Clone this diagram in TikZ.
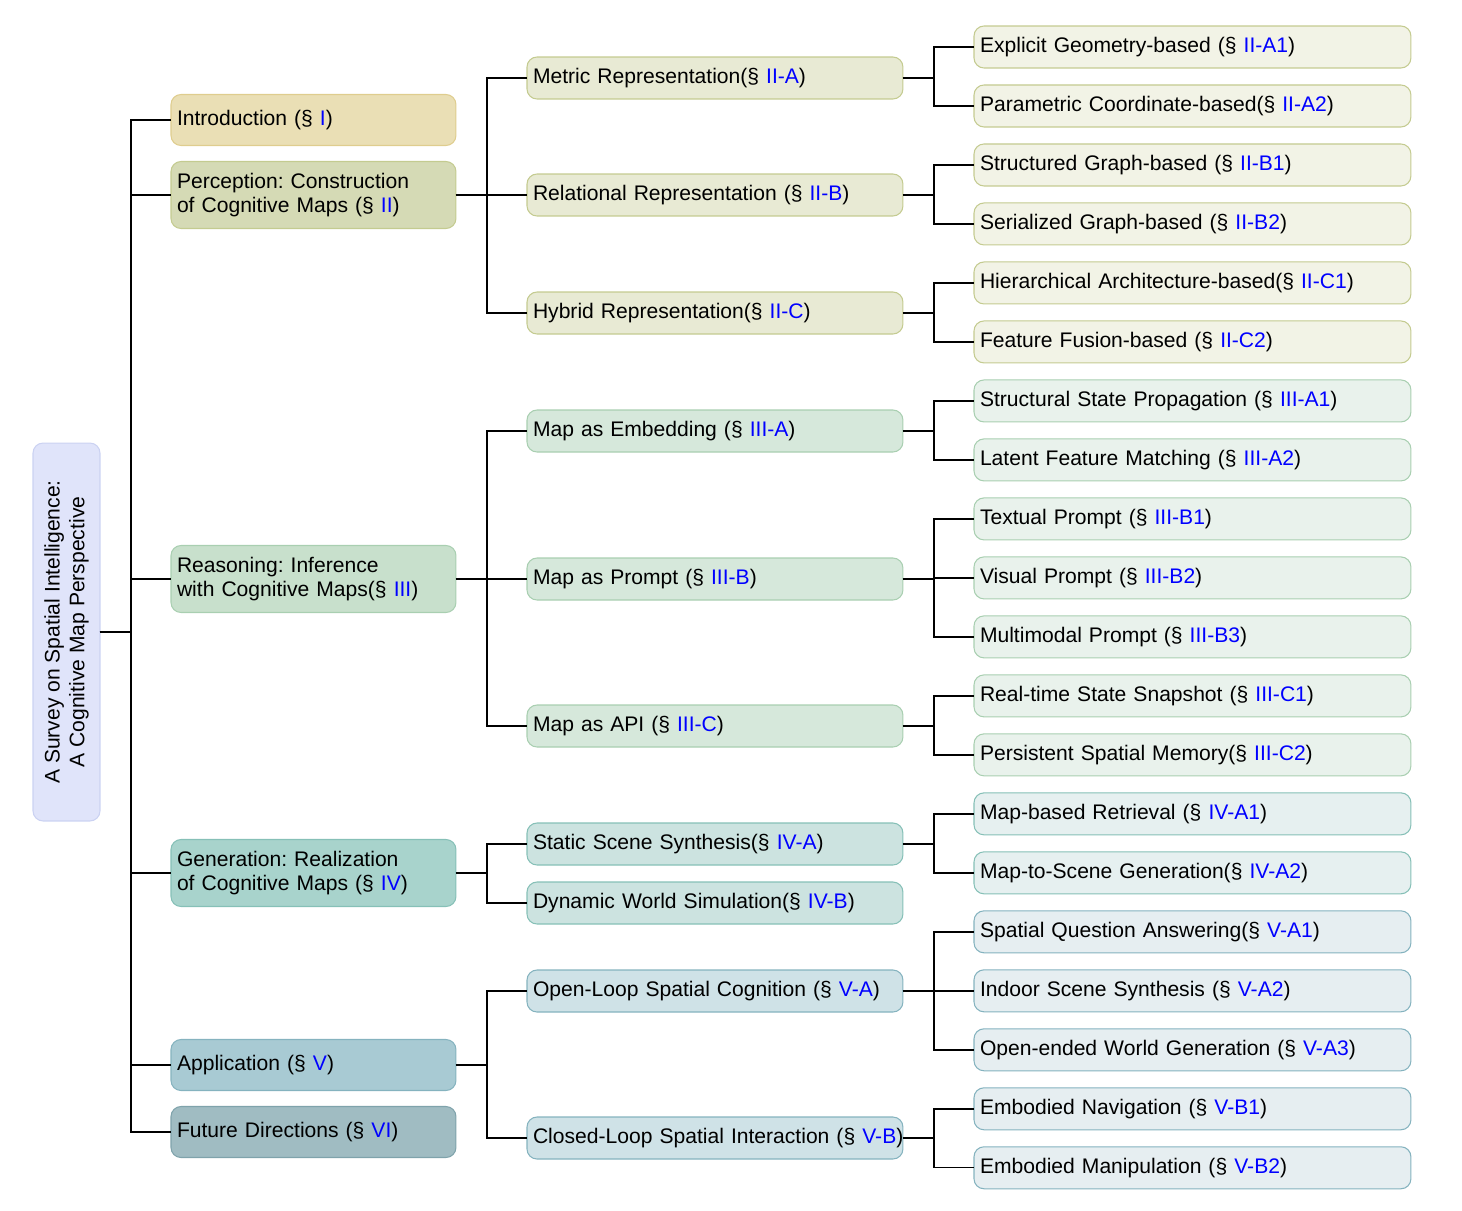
\documentclass[tikz,border=0pt]{standalone}
\usepackage{fontspec}
\setmainfont{Liberation Sans}
\usetikzlibrary{positioning}
\def\sref#1{(\S\ \textcolor{blue}{#1})}
\frenchspacing

\definecolor{rootfill}{HTML}{E0E4FA}\definecolor{rootline}{HTML}{CBD2F2}
\definecolor{introfill}{HTML}{EADFB5}\definecolor{introline}{HTML}{DFCD8E}
\definecolor{percfill}{HTML}{D5DAB5}\definecolor{percline}{HTML}{C4CB90}
\definecolor{percfillb}{HTML}{E8EAD4}\definecolor{percfillc}{HTML}{F2F3E6}
\definecolor{reasfill}{HTML}{C8E0CC}\definecolor{reasline}{HTML}{A9CFB1}
\definecolor{reasfillb}{HTML}{D6E8DB}\definecolor{reasfillc}{HTML}{E9F2EC}
\definecolor{genfill}{HTML}{A8D3CC}\definecolor{genline}{HTML}{86C0B7}
\definecolor{genfillb}{HTML}{CCE3E0}\definecolor{genfillc}{HTML}{E6F0F0}
\definecolor{appfill}{HTML}{A8CAD3}\definecolor{appline}{HTML}{85B3BF}
\definecolor{appfillb}{HTML}{CFE2E7}\definecolor{appfillc}{HTML}{E6EEF1}
\definecolor{futfill}{HTML}{A0BCC2}\definecolor{futline}{HTML}{7FA3AB}

\tikzset{
	box/.style={draw,rounded corners=0.2cm,outer sep=0pt,line width=0.6pt,anchor=west,align=left,inner xsep=0.12cm,inner ysep=0pt,font=\fontsize{12}{14}\selectfont},
	lone/.style={box,text width=5.46cm,minimum height=1.02cm},
	ltwo/.style={box,text width=7.28cm,minimum height=0.84cm},
	lthree/.style={box,text width=8.5cm,minimum height=0.84cm},
	link/.style={draw=black,line width=0.8pt},
}

\begin{document}
\begin{tikzpicture}[x=0.02cm,y=-0.02cm]
	\useasboundingbox (0,0) rectangle (1462,1210);

	% root
	\node [box,anchor=center,rotate=90,align=center,minimum width=7.56cm,minimum height=1.34cm,fill=rootfill,draw=rootline] at (66.5,632) (root) {A Survey on Spatial Intelligence:\\A Cognitive Map Perspective};

	% first level
	\node [lone,fill=introfill,draw=introline] at (171,120) (intro) {Introduction \sref{I}};
	\node [lone,minimum height=1.34cm,fill=percfill,draw=percline] at (171,195) (perc) {Perception: Construction\\of Cognitive Maps \sref{II}};
	\node [lone,minimum height=1.34cm,fill=reasfill,draw=reasline] at (171,579) (reas) {Reasoning: Inference\\with Cognitive Maps\sref{III}};
	\node [lone,minimum height=1.34cm,fill=genfill,draw=genline] at (171,873) (gen) {Generation: Realization\\of Cognitive Maps \sref{IV}};
	\node [lone,fill=appfill,draw=appline] at (171,1065) (app) {Application \sref{V}};
	\node [lone,fill=futfill,draw=futline] at (171,1132) (fut) {Future Directions \sref{VI}};

	% second level
	\node [ltwo,fill=percfillb,draw=percline] at (527,78) (metric) {Metric Representation\sref{II-A}};
	\node [ltwo,fill=percfillb,draw=percline] at (527,195) (relational) {Relational Representation \sref{II-B}};
	\node [ltwo,fill=percfillb,draw=percline] at (527,313) (hybrid) {Hybrid Representation\sref{II-C}};
	\node [ltwo,fill=reasfillb,draw=reasline] at (527,431) (embed) {Map as Embedding \sref{III-A}};
	\node [ltwo,fill=reasfillb,draw=reasline] at (527,579) (prompt) {Map as Prompt \sref{III-B}};
	\node [ltwo,fill=reasfillb,draw=reasline] at (527,726) (api) {Map as API \sref{III-C}};
	\node [ltwo,fill=genfillb,draw=genline] at (527,844) (static) {Static Scene Synthesis\sref{IV-A}};
	\node [ltwo,fill=genfillb,draw=genline] at (527,903) (dynamic) {Dynamic World Simulation\sref{IV-B}};
	\node [ltwo,fill=appfillb,draw=appline] at (527,991) (openloop) {Open-Loop Spatial Cognition \sref{V-A}};
	\node [ltwo,fill=appfillb,draw=appline] at (527,1138) (closedloop) {\mbox{Closed-Loop Spatial Interaction \sref{V-B}}};

	% third level
	\node [lthree,fill=percfillc,draw=percline] at (974,47) (explicit) {Explicit Geometry-based \sref{II-A1}};
	\node [lthree,fill=percfillc,draw=percline,below=0.34cm of explicit] (parametric) {Parametric Coordinate-based\sref{II-A2}};
	\node [lthree,fill=percfillc,draw=percline,below=0.34cm of parametric] (structgraph) {Structured Graph-based \sref{II-B1}};
	\node [lthree,fill=percfillc,draw=percline,below=0.34cm of structgraph] (serialgraph) {Serialized Graph-based \sref{II-B2}};
	\node [lthree,fill=percfillc,draw=percline,below=0.34cm of serialgraph] (hierarch) {Hierarchical Architecture-based\sref{II-C1}};
	\node [lthree,fill=percfillc,draw=percline,below=0.34cm of hierarch] (fusion) {Feature Fusion-based \sref{II-C2}};
	\node [lthree,fill=reasfillc,draw=reasline,below=0.34cm of fusion] (propag) {Structural State Propagation \sref{III-A1}};
	\node [lthree,fill=reasfillc,draw=reasline,below=0.34cm of propag] (latent) {Latent Feature Matching \sref{III-A2}};
	\node [lthree,fill=reasfillc,draw=reasline,below=0.34cm of latent] (textual) {Textual Prompt \sref{III-B1}};
	\node [lthree,fill=reasfillc,draw=reasline,below=0.34cm of textual] (visual) {Visual Prompt \sref{III-B2}};
	\node [lthree,fill=reasfillc,draw=reasline,below=0.34cm of visual] (multimodal) {Multimodal Prompt \sref{III-B3}};
	\node [lthree,fill=reasfillc,draw=reasline,below=0.34cm of multimodal] (snapshot) {Real-time State Snapshot \sref{III-C1}};
	\node [lthree,fill=reasfillc,draw=reasline,below=0.34cm of snapshot] (memory) {Persistent Spatial Memory\sref{III-C2}};
	\node [lthree,fill=genfillc,draw=genline,below=0.34cm of memory] (retrieval) {Map-based Retrieval \sref{IV-A1}};
	\node [lthree,fill=genfillc,draw=genline,below=0.34cm of retrieval] (map2scene) {Map-to-Scene Generation\sref{IV-A2}};
	\node [lthree,fill=appfillc,draw=appline,below=0.34cm of map2scene] (qa) {Spatial Question Answering\sref{V-A1}};
	\node [lthree,fill=appfillc,draw=appline,below=0.34cm of qa] (indoor) {Indoor Scene Synthesis \sref{V-A2}};
	\node [lthree,fill=appfillc,draw=appline,below=0.34cm of indoor] (openworld) {Open-ended World Generation \sref{V-A3}};
	\node [lthree,fill=appfillc,draw=appline,below=0.34cm of openworld] (navigation) {Embodied Navigation \sref{V-B1}};
	\node [lthree,fill=appfillc,draw=appline,below=0.34cm of navigation] (manipulation) {Embodied Manipulation \sref{V-B2}};

	% connectors
	\foreach \n in {intro,perc,reas,gen,app,fut}
		\draw [link] (root.south) -- ++(31,0) |- (\n.west);
	\foreach \n in {metric,relational,hybrid}
		\draw [link] (perc.east) -- ++(31,0) |- (\n.west);
	\foreach \n in {embed,prompt,api}
		\draw [link] (reas.east) -- ++(31,0) |- (\n.west);
	\foreach \n in {static,dynamic}
		\draw [link] (gen.east) -- ++(31,0) |- (\n.west);
	\foreach \n in {openloop,closedloop}
		\draw [link] (app.east) -- ++(31,0) |- (\n.west);

	\foreach \a/\b/\c in {metric/explicit/parametric,relational/structgraph/serialgraph,hybrid/hierarch/fusion,embed/propag/latent,api/snapshot/memory,static/retrieval/map2scene,closedloop/navigation/manipulation}{
		\draw [link] (\a.east) -- ++(31,0) |- (\b.west);
		\draw [link] (\a.east) -- ++(31,0) |- (\c.west);
	}
	\foreach \n in {textual,visual,multimodal}
		\draw [link] (prompt.east) -- ++(31,0) |- (\n.west);
	\foreach \n in {qa,indoor,openworld}
		\draw [link] (openloop.east) -- ++(31,0) |- (\n.west);
\end{tikzpicture}
\end{document}
